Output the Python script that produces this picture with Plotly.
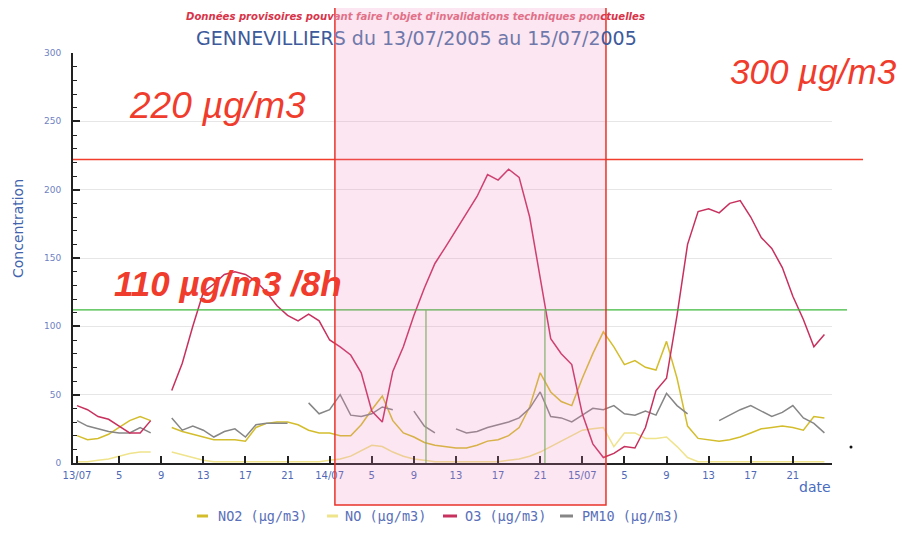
import plotly.graph_objects as go

# ---------------- data ----------------
hours = list(range(1, 73))  # hours since 13/07 00:00

no2 = [20, 17, 18, 21, 26, 31, 34, 31, None, 26,
       23, 21, 19, 17, 17, 17, 16, 26, 29, 30,
       30, 28, 24, 22, 22, 20, 20, 28, 39, 49,
       31, 22, 19, 15, 13, 12, 11, 11, 13, 16,
       17, 20, 26, 41, 66, 52, 45, 42, 62, 80,
       96, 85, 72, 75, 70, 68, 89, 62, 27, 18,
       17, 16, 17, 19, 22, 25, 26, 27, 26, 24, 34, 33]

no = [1, 1, 2, 3, 5, 7, 8, 8, None, 8,
      6, 4, 2, 1, 1, 1, 1, 1, 1, 1,
      1, 1, 1, 1, 2, 3, 5, 9, 13, 12,
      8, 5, 3, 2, 1, 1, 1, 1, 1, 1,
      1, 2, 3, 5, 8, 12, 16, 20, 24, 25,
      26, 12, 22, 22, 18, 18, 19, 12, 4, 1,
      1, 1, 1, 1, 1, 1, 1, 1, 1, 1, 1, 1]

o3 = [42, 39, 34, 32, 27, 22, 22, 31, None, 53,
      73, 100, 125, 131, 138, 140, 138, 133, 125, 115,
      108, 104, 109, 104, 90, 85, 79, 66, 38, 30,
      67, 85, 108, 128, 146, 158, 170, 183, 195, 211,
      207, 215, 209, 180, 136, 91, 80, 72, 36, 14,
      4, 7, 12, 11, 26, 53, 62, 108, 160, 184,
      186, 183, 190, 192, 180, 165, 157, 143, 122, 105, 85, 94]

pm10 = [31, 27, 25, 23, 22, 22, 26, 22, None, 33,
        24, 27, 24, 19, 23, 25, 19, 28, 29, 29,
        29, None, 44, 36, 39, 50, 35, 34, 36, 41,
        39, None, 38, 27, 22, None, 25, 22, 23, 26,
        28, 30, 33, 40, 52, 34, 33, 30, 35, 40,
        39, 42, 36, 35, 38, 35, 51, 42, 36, None,
        None, 31, 35, 39, 42, 38, 34, 37, 42, 33, 29, 22]

series_names = ["NO2 (µg/m3)", "NO (µg/m3)", "O3 (µg/m3)", "PM10 (µg/m3)"]
series_values = [no2, no, o3, pm10]
series_colors = ["#d4bd2c", "#efe38c", "#c8305e", "#868686"]

tick_hours = list(range(1, 70, 4))
tick_labels = ["13/07", "5", "9", "13", "17", "21",
               "14/07", "5", "9", "13", "17", "21",
               "15/07", "5", "9", "13", "17", "21"]

limit_220 = 222          # red threshold line
limit_110 = 112          # green threshold line
marked_hours = [34.15, 45.45]   # green vertical markers
highlight_period = [25.5, 51.25]  # pink highlighted period (hours)

# ---------------- layout geometry ----------------
# The page body has an 8px margin, so figure pixels = window pixels - 8.
OFF = 8
W, H = 911 - OFF, 533 - OFF
PL, PT, PW, PH = 73, 53, 759, 410   # plot area in window pixels
L, T = PL - OFF, PT - OFF
R, B = W - L - PW, H - T - PH


def px(x):  # window x pixel -> paper
    return (x - PL) / PW


def py(y):  # window y pixel -> paper
    return (PT + PH - y) / PH


fig = go.Figure()

draw_order = [1, 0, 3, 2]
for i in draw_order:
    fig.add_trace(go.Scatter(
        x=hours, y=series_values[i], mode="lines", name=series_names[i],
        line=dict(color=series_colors[i], width=1.5),
        connectgaps=False, showlegend=False, hoverinfo="skip"))

shapes = [
    dict(type="line", xref="paper", yref="y", x0=0, x1=px(863),
         y0=limit_220, y1=limit_220, line=dict(color="#f23c2c", width=1.5)),
    dict(type="line", xref="paper", yref="y", x0=0, x1=px(847),
         y0=limit_110, y1=limit_110, line=dict(color="#3cb83c", width=1.3)),
]
for h in marked_hours:
    shapes.append(dict(type="line", xref="x", yref="y", x0=h, x1=h, y0=0,
                       y1=limit_110, line=dict(color="#6cbb5a", width=1.2)))
shapes.append(dict(type="rect", xref="x", yref="paper",
                   x0=highlight_period[0], x1=highlight_period[1],
                   y0=py(505), y1=py(-2), layer="above",
                   fillcolor="rgba(235,130,185,0.2)",
                   line=dict(color="#e8332a", width=1.5)))
shapes.append(dict(type="circle", xref="paper", yref="paper",
                   x0=px(849.5), x1=px(852.5), y0=py(448.5), y1=py(445.5),
                   fillcolor="#111", line=dict(width=0)))

# manual legend
leg_y = py(516)
swatch_x = [(197, 208), (327, 338), (443, 457), (560, 573)]
text_x = [216, 343, 463, 580]
annotations = []
for name, col, (a, b), tx in zip(series_names, series_colors, swatch_x, text_x):
    shapes.append(dict(type="line", xref="paper", yref="paper", x0=px(a), x1=px(b),
                       y0=leg_y, y1=leg_y, line=dict(color=col, width=3)))
    annotations.append(dict(xref="paper", yref="paper", x=px(tx), y=leg_y,
                            xanchor="left", yanchor="middle", showarrow=False,
                            text=name,
                            font=dict(family="DejaVu Sans Mono", size=13.5, color="#5a70b8")))

red_dark, red_wash = "#d8344a", "#e27088"
blue_dark, blue_wash = "#3d5a9b", "#6f78ab"
subtitle = ("<b><i><span style='color:%s'>Données provisoires pouv</span>"
            "<span style='color:%s'>ant faire l'objet d'invalidations techniques pon</span>"
            "<span style='color:%s'>ctuelles</span></i></b>" % (red_dark, red_wash, red_dark))
title = ("<span style='color:%s'>GENNEVILLIER</span>"
         "<span style='color:%s'>S du 13/07/2005 au 15/07/2</span>"
         "<span style='color:%s'>005</span>" % (blue_dark, blue_wash, blue_dark))

annotations += [
    dict(xref="paper", yref="paper", x=px(415), y=py(17), xanchor="center", yanchor="middle",
         showarrow=False, text=subtitle,
         font=dict(family="DejaVu Sans", size=10.1, color=red_dark)),
    dict(xref="paper", yref="paper", x=px(416), y=py(38), xanchor="center", yanchor="middle",
         showarrow=False, text=title,
         font=dict(family="DejaVu Sans", size=19, color=blue_dark)),
    dict(xref="paper", yref="paper", x=px(18), y=py(229), xanchor="center", yanchor="middle",
         showarrow=False, text="Concentration", textangle=-90,
         font=dict(family="DejaVu Sans", size=14, color="#4163ad")),
    dict(xref="paper", yref="paper", x=px(815), y=py(487), xanchor="center", yanchor="middle",
         showarrow=False, text="date",
         font=dict(family="DejaVu Sans", size=14, color="#4a6cc0")),
    dict(xref="paper", yref="paper", x=px(217), y=py(105), xanchor="center", yanchor="middle",
         showarrow=False, text="<i>220 µg/m3</i>",
         font=dict(family="Liberation Sans", size=37, color="#f03c2c")),
    dict(xref="paper", yref="paper", x=px(813), y=py(71), xanchor="center", yanchor="middle",
         showarrow=False, text="<i>300 µg/m3</i>",
         font=dict(family="Liberation Sans", size=35, color="#f03c2c")),
    dict(xref="paper", yref="paper", x=px(228), y=py(283), xanchor="center", yanchor="middle",
         showarrow=False, text="<b><i>110 µg/m3 /8h</i></b>",
         font=dict(family="Liberation Sans", size=35, color="#f03c2c")),
]

fig.update_layout(
    width=W, height=H,
    margin=dict(l=L, r=R, t=T, b=B, pad=0),
    paper_bgcolor="white", plot_bgcolor="white",
    showlegend=False,
    shapes=shapes, annotations=annotations,
    xaxis=dict(range=[0.62, 72.72], tickmode="array", tickvals=tick_hours,
               ticktext=tick_labels, ticks="inside", ticklen=7, tickwidth=1.5,
               tickcolor="#222", showline=True, linecolor="#222", linewidth=2,
               showgrid=False, zeroline=False, ticklabelstandoff=2,
               tickfont=dict(family="DejaVu Sans", size=10, color="#4f69b5")),
    yaxis=dict(range=[0, 300], tickmode="array", tickvals=[0, 50, 100, 150, 200, 250, 300],
               ticks="inside", ticklen=7, tickwidth=1.5, tickcolor="#222",
               showline=True, linecolor="#222", linewidth=2,
               showgrid=True, gridcolor="#e6e6e6", gridwidth=1, zeroline=False,
               ticklabelstandoff=8,
               tickfont=dict(family="DejaVu Sans", size=9, color="#6f82c2"),
               minor=dict(dtick=10, ticks="inside", ticklen=4, tickcolor="#222",
                          tickwidth=1, showgrid=False)),
)

fig.write_html("out.html")
